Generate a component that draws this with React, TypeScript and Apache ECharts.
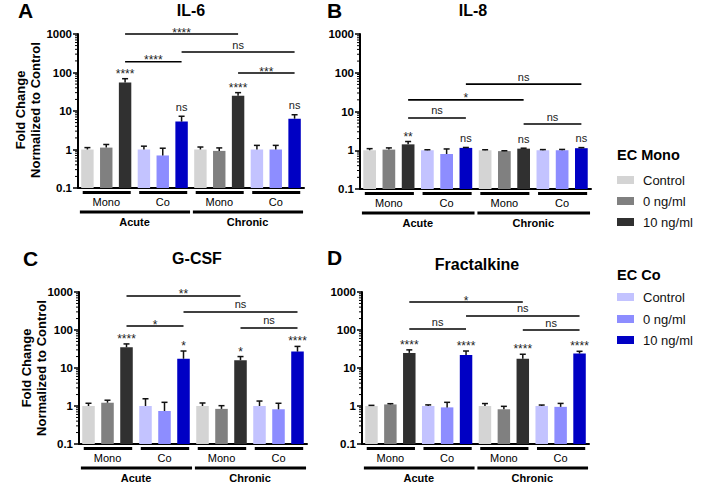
import React, { useEffect, useRef } from "react";
import * as echarts from "echarts";

const FONT = '"Liberation Sans", Arial, Helvetica, sans-serif';

// ---------- data ----------
const categories = [
  "Acute Mono Control", "Acute Mono 0 ng/ml", "Acute Mono 10 ng/ml",
  "Acute Co Control", "Acute Co 0 ng/ml", "Acute Co 10 ng/ml",
  "Chronic Mono Control", "Chronic Mono 0 ng/ml", "Chronic Mono 10 ng/ml",
  "Chronic Co Control", "Chronic Co 0 ng/ml", "Chronic Co 10 ng/ml",
];
const conditions = ["Control", "0 ng/ml", "10 ng/ml"];
const monoColors = ["#d4d4d4", "#808080", "#303030"];
const coColors = ["#c3c3ff", "#8d8dff", "#0000c4"];
const yTickLabels = ["0.1", "1", "10", "100", "1000"];
const yMin = 0.1;
const yMax = 1000;
const minorTickMultipliers = [2, 3, 4, 5, 6, 7, 8, 9];

const groupLabels = ["Mono", "Co", "Mono", "Co"];
const groupFrom = [0, 3, 6, 9];
const groupTo = [2, 5, 8, 11];
const periodLabels = ["Acute", "Chronic"];
const periodFrom = [0, 6];
const periodTo = [5, 11];

const bracketFrom = [2, 5, 2, 8];
const bracketTo = [8, 11, 5, 11];

const titles = ["IL-6", "IL-8", "G-CSF", "Fractalkine"];
const letters = ["A", "B", "C", "D"];

// IL-6
const il6Mean = [1.0, 1.12, 55, 1.0, 0.7, 5.3, 1.0, 0.92, 25, 1.0, 1.0, 6.3];
const il6Err = [1.12, 1.35, 69, 1.22, 1.08, 7.3, 1.16, 1.1, 30, 1.28, 1.28, 8.0];
const il6BarSig = ["", "", "****", "", "", "ns", "", "", "****", "", "", "ns"];
const il6BracketY = [1000, 340, 190, 97];
const il6BracketSig = ["****", "ns", "****", "***"];

// IL-8
const il8Mean = [1.0, 1.04, 1.42, 1.0, 0.8, 1.15, 1.0, 0.95, 1.1, 1.0, 1.0, 1.13];
const il8Err = [1.1, 1.15, 1.68, 1.03, 1.08, 1.18, 1.03, 0.97, 1.13, 1.04, 1.05, 1.17];
const il8BarSig = ["", "", "**", "", "", "ns", "", "", "ns", "", "", "ns"];
const il8BracketY = [20, 51, 6.8, 4.75];
const il8BracketSig = ["*", "ns", "ns", "ns"];

// G-CSF
const gcsfMean = [1.0, 1.22, 35, 1.0, 0.74, 17.5, 1.0, 0.84, 16, 1.0, 0.82, 27];
const gcsfErr = [1.18, 1.42, 43, 1.55, 1.25, 28, 1.2, 1.02, 20, 1.35, 1.18, 37];
const gcsfBarSig = ["", "", "****", "", "", "*", "", "", "*", "", "", "****"];
const gcsfBracketY = [785, 298, 127, 113];
const gcsfBracketSig = ["**", "ns", "*", "ns"];

// Fractalkine
const fktMean = [1.0, 1.1, 25, 1.0, 0.92, 22, 1.0, 0.82, 17.5, 1.0, 0.95, 24];
const fktErr = [1.04, 1.15, 30, 1.07, 1.25, 28, 1.16, 0.98, 23, 1.06, 1.17, 27.5];
const fktBarSig = ["", "", "****", "", "", "****", "", "", "****", "", "", "****"];
const fktBracketY = [545, 234, 106, 100];
const fktBracketSig = ["*", "ns", "ns", "ns"];

const panels = [
  { mean: il6Mean, err: il6Err, barSig: il6BarSig, bracketY: il6BracketY, bracketSig: il6BracketSig },
  { mean: il8Mean, err: il8Err, barSig: il8BarSig, bracketY: il8BracketY, bracketSig: il8BracketSig },
  { mean: gcsfMean, err: gcsfErr, barSig: gcsfBarSig, bracketY: gcsfBracketY, bracketSig: gcsfBracketSig },
  { mean: fktMean, err: fktErr, barSig: fktBarSig, bracketY: fktBracketY, bracketSig: fktBracketSig },
];

// ---------- layout ----------
const layout = [
  { left: 78, top: 34, width: 226, height: 154, lx: 18, ly: 10, tx: 191, ty: 10 },
  { left: 360, top: 34, width: 231, height: 155, lx: 327, ly: 10, tx: 473, ty: 10 },
  { left: 79, top: 292, width: 228, height: 152, lx: 23, ly: 258, tx: 197, ty: 258 },
  { left: 362, top: 292, width: 227, height: 152, lx: 327, ly: 257, tx: 477, ty: 264 },
];

const barColors = categories.map((_, i) =>
  (Math.floor(i / 3) % 2 === 0 ? monoColors : coColors)[i % 3]
);

const minorTickValues: number[] = [];
for (let k = 0; k < yTickLabels.length - 1; k++) {
  const base = Number(yTickLabels[k]);
  minorTickMultipliers.forEach((m) => minorTickValues.push(+(base * m).toPrecision(3)));
}

function textStyle(text: string, font: string, align = "center", valign = "middle", fill = "#000") {
  return { text, fill, font, textAlign: align, textVerticalAlign: valign };
}

function makeOption() {
  const series: any[] = [];
  panels.forEach((panel, p) => {
    // bars with error bars
    series.push({
      type: "custom",
      xAxisIndex: p,
      yAxisIndex: p,
      silent: true,
      clip: false,
      encode: { x: 0, y: 1 },
      data: categories.map((_, i) => [i, panel.mean[i], panel.err[i]]),
      renderItem: (params: any, api: any) => {
        const i = api.value(0);
        const v = api.value(1);
        const e = api.value(2);
        const cs = params.coordSys;
        const band = cs.width / categories.length;
        const w = band * 0.66;
        const top = api.coord([i, v]);
        const base = api.coord([i, yMin]);
        const errP = api.coord([i, e]);
        const cx = top[0];
        const children: any[] = [
          { type: "rect", shape: { x: cx - w / 2, y: top[1], width: w, height: base[1] - top[1] }, style: { fill: barColors[i] } },
          { type: "line", shape: { x1: cx, y1: top[1], x2: cx, y2: errP[1] }, style: { stroke: "#111", lineWidth: 1.5 } },
          { type: "line", shape: { x1: cx - 3, y1: errP[1], x2: cx + 3, y2: errP[1] }, style: { stroke: "#111", lineWidth: 1.5 } },
        ];
        const sig = panel.barSig[i];
        if (sig) {
          const star = sig.indexOf("*") >= 0;
          children.push({
            type: "text",
            x: cx,
            y: errP[1] - (star ? 5 : 9.5),
            style: textStyle(sig, star ? `12px ${FONT}` : `11px ${FONT}`, "center", "middle", "#222"),
          });
        }
        return { type: "group", children };
      },
    });
    // significance brackets
    series.push({
      type: "custom",
      xAxisIndex: p,
      yAxisIndex: p,
      silent: true,
      clip: false,
      encode: { x: 0, y: 2 },
      data: bracketFrom.map((f, k) => [f, bracketTo[k], panel.bracketY[k]]),
      renderItem: (params: any, api: any) => {
        const a = api.coord([api.value(0), api.value(2)]);
        const b = api.coord([api.value(1), api.value(2)]);
        const label = panel.bracketSig[params.dataIndex];
        const star = label.indexOf("*") >= 0;
        return {
          type: "group",
          children: [
            { type: "line", shape: { x1: a[0], y1: a[1], x2: b[0], y2: b[1] }, style: { stroke: "#000", lineWidth: 1.6 } },
            {
              type: "text",
              x: (a[0] + b[0]) / 2,
              y: a[1] - (star ? 1.5 : 7.5),
              style: textStyle(label, star ? `12px ${FONT}` : `11px ${FONT}`, "center", "middle", "#222"),
            },
          ],
        };
      },
    });
    // group underlines and labels below the axis
    const groupData: any[] = groupFrom.map((f, k) => [f, groupTo[k], 0, k]);
    periodFrom.forEach((f, k) => groupData.push([f, periodTo[k], 1, k]));
    series.push({
      type: "custom",
      xAxisIndex: p,
      yAxisIndex: p,
      silent: true,
      clip: false,
      encode: { x: 0, y: 1 },
      data: groupData,
      renderItem: (params: any, api: any) => {
        const from = api.value(0);
        const to = api.value(1);
        const level = api.value(2);
        const idx = api.value(3);
        const cs = params.coordSys;
        const band = cs.width / categories.length;
        const pa = api.coord([from, yMin]);
        const pb = api.coord([to, yMin]);
        const x0 = pa[0] - band / 2;
        const x1 = pb[0] + band / 2;
        const yb = pa[1];
        if (level === 0) {
          return {
            type: "group",
            children: [
              { type: "line", shape: { x1: x0 + band * 0.25, y1: yb + 4.5, x2: x1 - band * 0.2, y2: yb + 4.5 }, style: { stroke: "#000", lineWidth: 3 } },
              { type: "text", x: (x0 + x1) / 2, y: yb + 13.5, style: textStyle(groupLabels[idx], `11px ${FONT}`) },
            ],
          };
        }
        return {
          type: "group",
          children: [
            { type: "line", shape: { x1: x0 + band * 0.1, y1: yb + 24, x2: x1 - band * 0.05, y2: yb + 24 }, style: { stroke: "#000", lineWidth: 3 } },
            { type: "text", x: (x0 + x1) / 2, y: yb + 33.5, style: textStyle(periodLabels[idx], `bold 11px ${FONT}`) },
          ],
        };
      },
    });
    // log minor ticks
    series.push({
      type: "custom",
      xAxisIndex: p,
      yAxisIndex: p,
      silent: true,
      clip: false,
      encode: { x: 0, y: 1 },
      data: minorTickValues.map((v) => [0, v]),
      renderItem: (params: any, api: any) => {
        const y = api.coord([0, api.value(1)])[1];
        const x = params.coordSys.x;
        return { type: "line", shape: { x1: x - 3, y1: y, x2: x, y2: y }, style: { stroke: "#000", lineWidth: 1 } };
      },
    });
  });

  const graphic: any[] = [];
  layout.forEach((l, p) => {
    graphic.push({ type: "text", x: l.lx, y: l.ly, style: textStyle(letters[p], `bold 21px ${FONT}`, "left", "middle") });
    graphic.push({ type: "text", x: l.tx, y: l.ty, style: textStyle(titles[p], `bold 16px ${FONT}`, "center", "middle") });
  });
  // y axis titles
  [[28, 110], [34, 368]].forEach(([x, y]) => {
    graphic.push({
      type: "text",
      x,
      y,
      rotation: Math.PI / 2,
      style: { ...textStyle("Fold Change\nNormalized to Control", `bold 13px ${FONT}`, "center", "middle"), lineHeight: 15.5 },
    });
  });
  // legends
  const legendBlocks = [
    { title: "EC Mono", colors: monoColors, y0: 155, items: [180, 201, 222] },
    { title: "EC Co", colors: coColors, y0: 275, items: [297, 319, 340] },
  ];
  legendBlocks.forEach((b) => {
    graphic.push({ type: "text", x: 617, y: b.y0, style: textStyle(b.title, `bold 14.5px ${FONT}`, "left", "middle") });
    conditions.forEach((c, k) => {
      graphic.push({ type: "rect", x: 617, y: b.items[k] - 4, shape: { x: 0, y: 0, width: 17, height: 8 }, style: { fill: b.colors[k] } });
      graphic.push({ type: "text", x: 643, y: b.items[k], style: textStyle(c, `13px ${FONT}`, "left", "middle", "#111") });
    });
  });

  return {
    animation: false,
    backgroundColor: "#fff",
    grid: layout.map((l) => ({ left: l.left, top: l.top, width: l.width, height: l.height, containLabel: false })),
    xAxis: layout.map((_, p) => ({
      gridIndex: p,
      type: "category",
      data: categories,
      axisLine: { show: true, lineStyle: { color: "#000", width: 2 } },
      axisTick: { show: false },
      axisLabel: { show: false },
      splitLine: { show: false },
    })),
    yAxis: layout.map((_, p) => ({
      gridIndex: p,
      type: "log",
      logBase: 10,
      min: yMin,
      max: yMax,
      axisLine: { show: true, lineStyle: { color: "#000", width: 2 } },
      axisTick: { show: true, length: 5, lineStyle: { color: "#000", width: 1.5 } },
      axisLabel: {
        show: true,
        color: "#000",
        fontWeight: "bold",
        fontSize: 11.5,
        fontFamily: FONT,
        margin: 6,
        formatter: (v: number) => {
          const k = Math.round(Math.log10(v)) + 1;
          return yTickLabels[k] ?? String(v);
        },
      },
      splitLine: { show: false },
    })),
    series,
    graphic,
  };
}

export default function App() {
  const ref = useRef<HTMLDivElement>(null);
  useEffect(() => {
    document.body.style.margin = "0";
    if (!ref.current) return;
    const chart = echarts.init(ref.current, undefined, { renderer: "svg" });
    chart.setOption(makeOption() as any);
    return () => chart.dispose();
  }, []);
  return <div ref={ref} style={{ width: 708, height: 482 }} />;
}
